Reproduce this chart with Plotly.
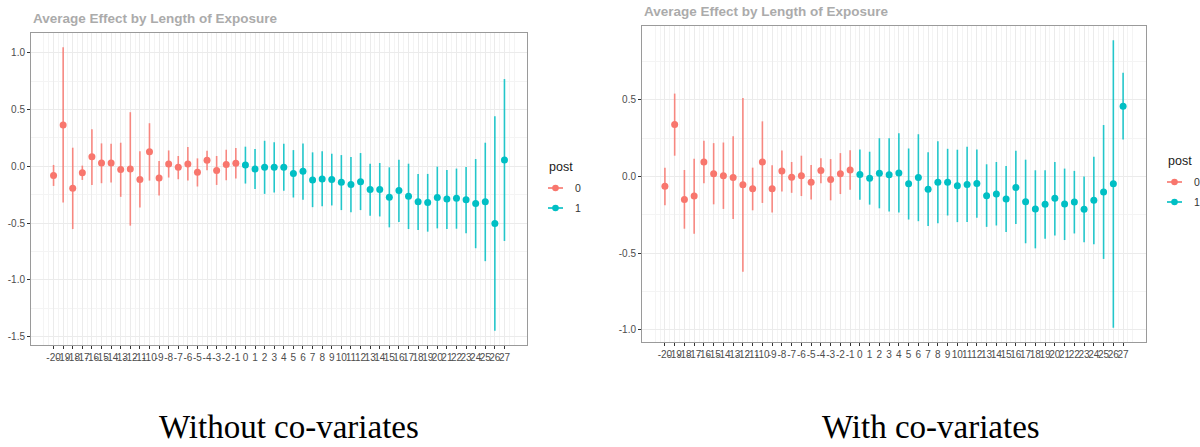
import plotly.graph_objects as go

# ---------------- data ----------------
periods = list(range(-20, 28))

# Without co-variates: estimate, lower, upper
est_nocov = [-0.082, 0.365, -0.193, -0.056, 0.085, 0.029, 0.029, -0.029, -0.023, -0.117,
             0.129, -0.102, 0.020, -0.009, 0.020, -0.053, 0.053, -0.038, 0.015, 0.026,
             0.012, -0.023, -0.009, -0.009, -0.009, -0.064, -0.044, -0.120, -0.111, -0.117,
             -0.140, -0.161, -0.135, -0.205, -0.205, -0.272, -0.213, -0.263, -0.313, -0.319,
             -0.275, -0.289, -0.281, -0.295, -0.327, -0.313, -0.503, 0.056]
lo_nocov = [-0.173, -0.320, -0.553, -0.120, -0.164, -0.149, -0.143, -0.269, -0.523, -0.363,
            -0.126, -0.257, -0.099, -0.114, -0.126, -0.178, -0.035, -0.164, -0.123, -0.108,
            -0.152, -0.199, -0.243, -0.231, -0.216, -0.275, -0.295, -0.360, -0.351, -0.345,
            -0.386, -0.406, -0.386, -0.436, -0.442, -0.538, -0.491, -0.553, -0.561, -0.576,
            -0.547, -0.553, -0.550, -0.591, -0.722, -0.836, -1.450, -0.658]
hi_nocov = [0.012, 1.050, 0.164, 0.006, 0.327, 0.202, 0.199, 0.208, 0.477, 0.132,
            0.380, 0.047, 0.140, 0.091, 0.170, 0.070, 0.137, 0.091, 0.146, 0.161,
            0.173, 0.152, 0.225, 0.213, 0.199, 0.143, 0.202, 0.123, 0.132, 0.111,
            0.099, 0.082, 0.117, 0.023, 0.029, -0.009, 0.058, 0.023, -0.067, -0.067,
            -0.003, -0.032, -0.020, -0.006, 0.064, 0.208, 0.442, 0.769]

# With co-variates: estimate, lower, upper
est_cov = [-0.0625, 0.340, -0.149, -0.127, 0.095, 0.019, 0.006, -0.006, -0.054, -0.080,
           0.095, -0.080, 0.037, -0.004, 0.006, -0.037, 0.039, -0.019, 0.019, 0.043,
           0.013, -0.011, 0.022, 0.011, 0.024, -0.047, -0.006, -0.082, -0.037, -0.037,
           -0.060, -0.052, -0.045, -0.125, -0.114, -0.147, -0.071, -0.164, -0.211, -0.181,
           -0.142, -0.179, -0.166, -0.213, -0.155, -0.101, -0.047, 0.459]
lo_cov = [-0.1875, 0.136, -0.340, -0.373, -0.043, -0.181, -0.211, -0.276, -0.621, -0.220,
          -0.172, -0.235, -0.097, -0.106, -0.127, -0.149, -0.043, -0.155, -0.114, -0.086,
          -0.151, -0.183, -0.207, -0.228, -0.235, -0.280, -0.291, -0.323, -0.304, -0.254,
          -0.297, -0.297, -0.269, -0.328, -0.319, -0.362, -0.310, -0.435, -0.468, -0.405,
          -0.384, -0.414, -0.371, -0.429, -0.442, -0.537, -0.985, 0.241]
hi_cov = [0.058, 0.541, 0.043, 0.116, 0.233, 0.218, 0.222, 0.263, 0.513, 0.058,
          0.360, 0.073, 0.170, 0.095, 0.136, 0.075, 0.119, 0.114, 0.153, 0.172,
          0.177, 0.162, 0.250, 0.250, 0.282, 0.183, 0.276, 0.159, 0.231, 0.181,
          0.175, 0.194, 0.177, 0.080, 0.095, 0.069, 0.168, 0.110, 0.041, 0.041,
          0.095, 0.052, 0.037, 0.000, 0.129, 0.336, 0.888, 0.677]

panel_titles = ["Without co-variates", "With co-variates"]
chart_title = "Average Effect by Length of Exposure"
legend_title = "post"
legend_labels = ["0", "1"]

# ---------------- styling ----------------
COL = {0: "#F8766D", 1: "#00BFC4"}
BAR = {0: "rgba(248,118,109,0.85)", 1: "rgba(0,191,196,0.85)"}
W, H = 1200, 447
SANS = "Liberation Sans, Arial, sans-serif"
SERIF = "Liberation Serif, Times New Roman, serif"


def px(x):
    return x / W


def py(y):
    return 1 - y / H


fig = go.Figure()

panels = [
    dict(est=est_nocov, lo=lo_nocov, hi=hi_nocov, xa="x", ya="y",
         dom_x=[px(31), px(527)], dom_y=[py(345), py(33)],
         yticks=[-1.5, -1.0, -0.5, 0.0, 0.5, 1.0]),
    dict(est=est_cov, lo=lo_cov, hi=hi_cov, xa="x2", ya="y2",
         dom_x=[px(642), px(1146)], dom_y=[py(342), py(26)],
         yticks=[-1.0, -0.5, 0.0, 0.5]),
]

for p in panels:
    for grp in (0, 1):
        idx = [i for i, t in enumerate(periods) if (t >= 0) == bool(grp)]
        xs = [periods[i] for i in idx]
        ys = [p["est"][i] for i in idx]
        up = [p["hi"][i] - p["est"][i] for i in idx]
        dn = [p["est"][i] - p["lo"][i] for i in idx]
        fig.add_trace(go.Scatter(
            x=xs, y=ys, mode="markers", xaxis=p["xa"], yaxis=p["ya"],
            marker=dict(color=COL[grp], size=7, line=dict(width=0)),
            error_y=dict(type="data", symmetric=False, array=up, arrayminus=dn,
                         width=0, thickness=1.6, color=BAR[grp]),
            showlegend=False, hoverinfo="skip"))

# x axis: continuous with ggplot-like 5% expansion
xmin, xmax = min(periods), max(periods)
xpad = (xmax - xmin) * 0.05
xrange = [xmin - xpad, xmax + xpad]
minor_x = [v / 2 for v in range(2 * (xmin - 1), 2 * (xmax + 1) + 1) if v % 2 != 0] + [xmin - 1, xmax + 1]

GRID = "#EBEBEB"
MINOR = "#F4F4F4"
BORDER = "#9A9A9A"

for k, p in enumerate(panels):
    sfx = "" if k == 0 else "2"
    lo_all = min(p["lo"])
    hi_all = max(p["hi"])
    ypad = (hi_all - lo_all) * 0.05
    yr = [lo_all - ypad, hi_all + ypad]
    yt = p["yticks"]
    minor_y = [(yt[i] + yt[i + 1]) / 2 for i in range(len(yt) - 1)]
    minor_y = [yt[0] - 0.25] + minor_y + [yt[-1] + 0.25]
    fig.update_layout(**{
        "xaxis" + sfx: dict(
            domain=p["dom_x"], anchor="y" + sfx, range=xrange,
            tickmode="array", tickvals=periods, ticktext=[str(t) for t in periods],
            tickangle=0, tickfont=dict(family=SANS, size=10, color="#4D4D4D"),
            ticks="outside", ticklen=3, tickwidth=1, tickcolor="#333333",
            showgrid=True, gridcolor=GRID, gridwidth=1, zeroline=False,
            showline=True, linecolor=BORDER, linewidth=1, mirror=True,
            minor=dict(tickmode="array", tickvals=minor_x, showgrid=True,
                       gridcolor=MINOR, gridwidth=1, ticks=""),
        ),
        "yaxis" + sfx: dict(
            domain=p["dom_y"], anchor="x" + sfx, range=yr,
            tickmode="array", tickvals=yt, ticktext=[f"{v:.1f}" for v in yt],
            tickfont=dict(family=SANS, size=10, color="#4D4D4D"),
            ticks="outside", ticklen=3, tickwidth=1, tickcolor="#333333",
            showgrid=True, gridcolor=GRID, gridwidth=1, zeroline=False,
            showline=True, linecolor=BORDER, linewidth=1, mirror=True,
            minor=dict(tickmode="array", tickvals=minor_y, showgrid=True,
                       gridcolor=MINOR, gridwidth=1, ticks=""),
        ),
    })

annotations = []
shapes = []

# chart titles
for tx, ty in [(31, 19), (642, 12)]:
    annotations.append(dict(text=f"<b>{chart_title}</b>", x=px(tx), y=py(ty), xref="paper", yref="paper",
                            xanchor="left", yanchor="middle", showarrow=False,
                            font=dict(family=SANS, size=13.5, color="#ABABAB")))

# legends (ggplot-style pointrange keys)
for lx, ly in [(547, 167), (1166, 161)]:
    annotations.append(dict(text=legend_title, x=px(lx), y=py(ly), xref="paper", yref="paper",
                            xanchor="left", yanchor="middle", showarrow=False,
                            font=dict(family=SANS, size=12.5, color="#1A1A1A")))
    for j, lab in enumerate(legend_labels):
        yy = ly + 21 + 20 * j
        shapes.append(dict(type="line", xref="paper", yref="paper",
                           x0=px(lx + 1), x1=px(lx + 16), y0=py(yy), y1=py(yy),
                           line=dict(color=COL[j], width=1.6)))
        shapes.append(dict(type="circle", xref="paper", yref="paper",
                           x0=px(lx + 8.5 - 3.3), x1=px(lx + 8.5 + 3.3),
                           y0=py(yy + 3.3), y1=py(yy - 3.3),
                           fillcolor=COL[j], line=dict(width=0)))
        annotations.append(dict(text=lab, x=px(lx + 26), y=py(yy), xref="paper", yref="paper",
                                xanchor="left", yanchor="middle", showarrow=False,
                                font=dict(family=SANS, size=10.5, color="#333333")))

# captions
for cx, txt in [(289, panel_titles[0]), (931, panel_titles[1])]:
    annotations.append(dict(text=txt, x=px(cx), y=py(427), xref="paper", yref="paper",
                            xanchor="center", yanchor="middle", showarrow=False, borderpad=0,
                            font=dict(family=SERIF, size=33, color="#000000")))

fig.update_layout(
    width=W, height=H, margin=dict(l=0, r=0, t=0, b=0),
    paper_bgcolor="white", plot_bgcolor="white",
    showlegend=False, annotations=annotations, shapes=shapes,
)

fig.write_html("out.html", config={"displayModeBar": False},
               post_script="document.body.style.margin='0';document.body.style.overflow='hidden';")
